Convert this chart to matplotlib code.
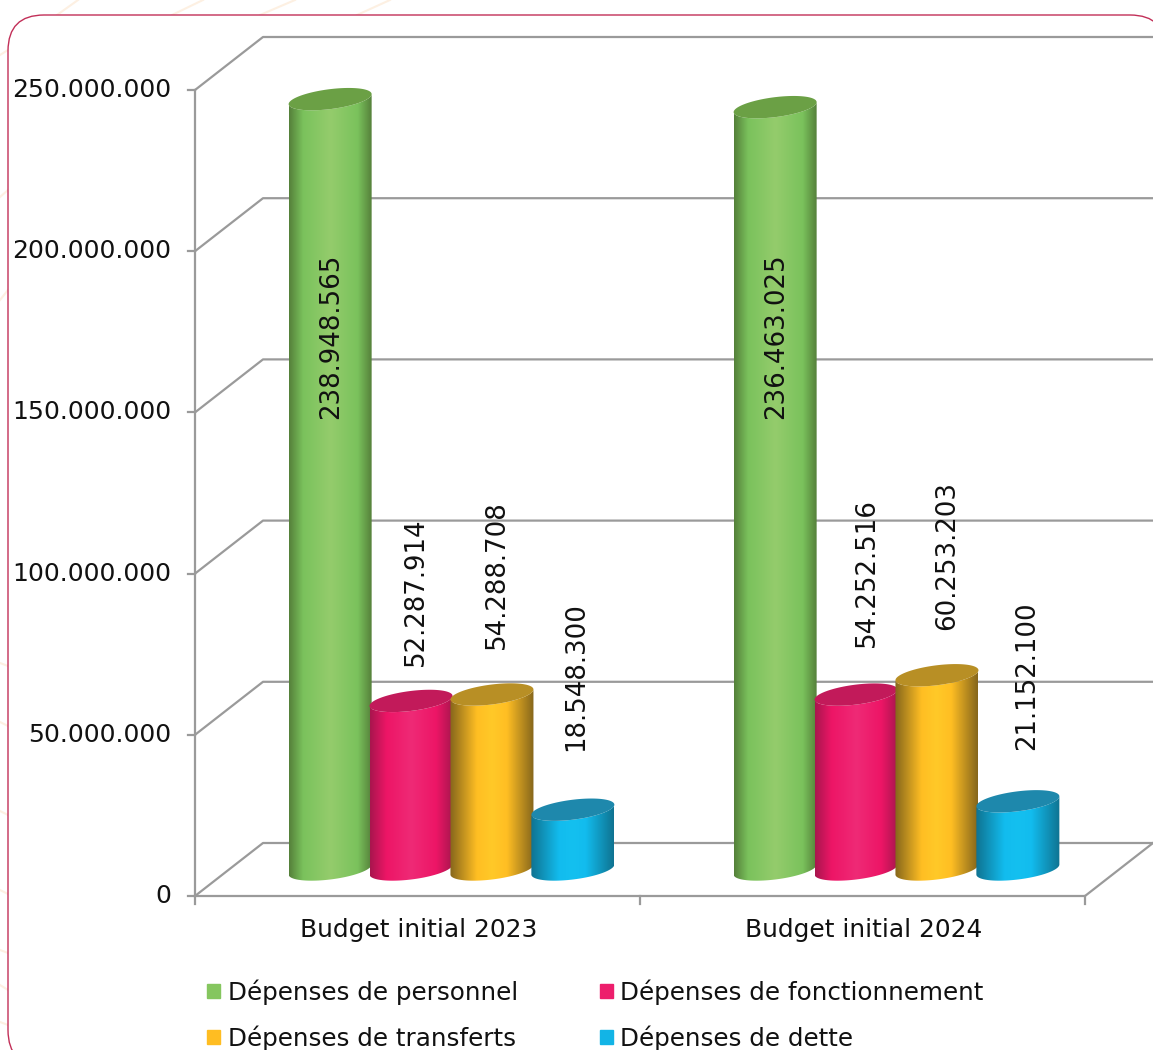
import numpy as np
import matplotlib
matplotlib.use("Agg")
import matplotlib.pyplot as plt
from matplotlib.colors import LinearSegmentedColormap
from matplotlib.patches import FancyBboxPatch, Patch, Polygon

categories = ["Budget initial 2023", "Budget initial 2024"]
series_names = [
    "Dépenses de personnel",
    "Dépenses de fonctionnement",
    "Dépenses de transferts",
    "Dépenses de dette",
]
personnel = [238948565, 236463025]
fonctionnement = [52287914, 54252516]
transferts = [54288708, 60253203]
dette = [18548300, 21152100]
y_ticks = [0, 50000000, 100000000, 150000000, 200000000, 250000000]

# side colour, base, highlight, top face
palette = [
    ("#55803a", "#7ac25c", "#94cc6c", "#6ba045"),
    ("#a8164e", "#ed1566", "#ef2a76", "#c21a5a"),
    ("#85661c", "#ffbe23", "#ffc928", "#b88f25"),
    ("#0f7391", "#12bcee", "#14c0f0", "#1e88ac"),
]
edge_width = [0.17, 0.2, 0.32, 0.34]
legend_colors = ["#85c65f", "#ed1e6c", "#ffbd22", "#12b4e6"]

# label placement relative to the top of each bar, in pixels
label_dx = [[1, 5, 5, 3], [1, 11, 10, 9]]
label_up = [[-320, 35, 45, 59], [-312, 48, 45, 51]]

W, H = 1153, 1050
GREY = "#9a9a9a"
TEXT = "#111111"

fig = plt.figure(figsize=(W / 100, H / 100), dpi=100, facecolor="white")

# page background and rounded card
bg = fig.add_axes([0, 0, 1, 1])
bg.set_xlim(0, W)
bg.set_ylim(H, 0)
bg.axis("off")
for x0, y0, x1, y1 in [(57, 15, 78, 0), (172, 15, 203, 0), (260, 15, 295, 0),
                       (357, 15, 390, 0), (0, 55, 8, 50), (0, 197, 8, 190),
                       (0, 300, 8, 290), (0, 663, 8, 666), (0, 722, 8, 726),
                       (0, 811, 8, 815), (0, 890, 8, 894), (0, 950, 8, 953),
                       (0, 985, 8, 990), (0, 1022, 8, 1025)]:
    bg.plot([x0, x1], [y0, y1], color="#fdf0e2", lw=1.5, zorder=1)
card = FancyBboxPatch((8, 15), 1158, 1051, boxstyle="round,pad=0,rounding_size=36",
                      fc="white", ec="#c22f58", lw=1, zorder=2)
bg.add_patch(card)

# axes rectangle is the front plane of the 3D box
left, right, bottom, top = 195, 1085, 896, 90
ax = fig.add_axes([left / W, (H - bottom) / H, (right - left) / W, (bottom - top) / H])
ax.patch.set_alpha(0)
ax.axis("off")
ax.set_xlim(-0.5, 1.5)
ax.set_ylim(0, 250000000)
px_x = 2 / (right - left)
px_y = 250000000 / (bottom - top)
depth_x, depth_y = 68 * px_x, 53 * px_y

# walls
for v in y_ticks:
    ax.plot([-0.5, -0.5 + depth_x, 1.5 + depth_x], [v, v + depth_y, v + depth_y],
            color=GREY, lw=1.6, clip_on=False, zorder=1)
    ax.plot([-0.5 - 7 * px_x, -0.5], [v, v], color=GREY, lw=1.6, clip_on=False, zorder=1)
    ax.text(-0.5 - 24 * px_x, v, f"{v:,}".replace(",", "."), ha="right", va="center",
            fontsize=18.1, color=TEXT, clip_on=False)
ax.plot([-0.5, -0.5], [0, 250000000], color=GREY, lw=1.6, clip_on=False, zorder=1)
ax.plot([-0.5, 1.5, 1.5 + depth_x], [0, 0, depth_y], color=GREY, lw=1.6, clip_on=False, zorder=1)
for x in [-0.5, 0.5, 1.5]:
    ax.plot([x, x], [0, -8 * px_y], color=GREY, lw=1.6, clip_on=False, zorder=1)
for i, name in enumerate(categories):
    ax.text(i + 1 * px_x, -34 * px_y, name, ha="center", va="center", fontsize=17.9,
            color=TEXT, clip_on=False)


def ellipse(cx, cy, t):
    # slightly tilted ellipse, as the chart's perspective draws it
    a, b, tilt = 41.5, 10, 5
    return cx + a * px_x * np.cos(t), cy + (b * np.sin(t) + tilt * np.cos(t)) * px_y


values = [personnel, fonctionnement, transferts, dette]
spacing = (right - left) / 4 / 2.75 * px_x
z = 3
for c in range(len(categories)):
    for s, vals in enumerate(values):
        side, base, light, face = palette[s]
        cx = c + (s - 1.5) * spacing + depth_x / 2
        cy0 = depth_y / 2
        cy1 = vals[c] + depth_y / 2

        t_low = np.linspace(0, -np.pi, 60)
        xb, yb = ellipse(cx, cy0, t_low)
        xt, yt = ellipse(cx, cy1, t_low[::-1])
        body = np.column_stack([np.r_[xb, xt], np.r_[yb, yt]])

        e = edge_width[s]
        cmap = LinearSegmentedColormap.from_list(
            f"c{s}", [(0, side), (e, base), (0.5, light), (1 - e, base), (1, side)])
        half = 41.5 * px_x
        im = ax.imshow(np.linspace(0, 1, 256).reshape(1, -1), cmap=cmap, aspect="auto",
                       extent=[cx - half, cx + half, cy0 - 15 * px_y, cy1 + 15 * px_y],
                       zorder=z, clip_on=True)
        im.set_clip_path(Polygon(body, transform=ax.transData))

        t_all = np.linspace(0, 2 * np.pi, 120)
        xf, yf = ellipse(cx, cy1, t_all)
        ax.fill(xf, yf, color=face, lw=0, zorder=z + 0.5, clip_on=False)
        z += 1

        ax.annotate(f"{vals[c]:,}".replace(",", "."), (cx, cy1),
                    xytext=(label_dx[c][s], label_up[c][s]), textcoords="offset pixels",
                    rotation=90, ha="center", va="bottom", fontsize=18.7,
                    color=TEXT, zorder=50, annotation_clip=False)

ax.set_xlim(-0.5, 1.5)
ax.set_ylim(0, 250000000)

handles = [Patch(color=col, label=name) for col, name in zip(legend_colors, series_names)]
order = [0, 2, 1, 3]
fig.legend([handles[i] for i in order], [series_names[i] for i in order], ncol=2,
           loc="lower left", bbox_to_anchor=(207 / W, -0.001), frameon=False,
           fontsize=17.75, labelcolor=TEXT, handlelength=0.52, handleheight=0.52,
           handletextpad=0.32, columnspacing=3.32, labelspacing=0.84,
           borderpad=0, borderaxespad=0)

fig.savefig("out.png", dpi=100)
